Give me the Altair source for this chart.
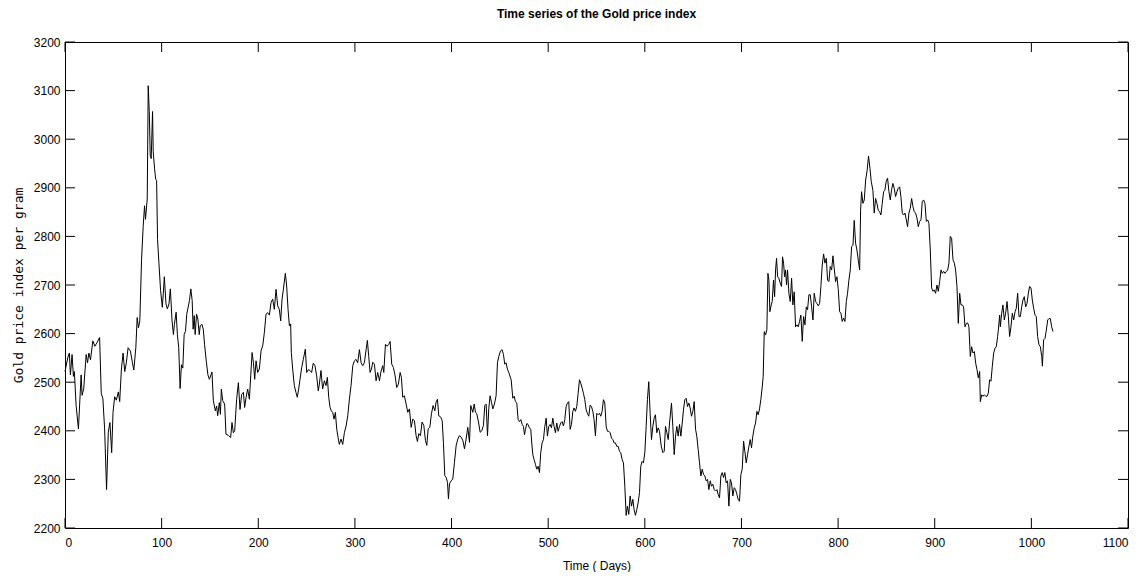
import altair as alt
import pandas as pd

TITLE = "Time series of the Gold price index"
X_TITLE = "Time ( Days)"
Y_TITLE = "Gold price index per gram"
X_TICKS = [0, 100, 200, 300, 400, 500, 600, 700, 800, 900, 1000, 1100]
Y_TICKS = [2200, 2300, 2400, 2500, 2600, 2700, 2800, 2900, 3000, 3100, 3200]

# (day, price) readings, segment by segment
SEG_A = [(0, 2522), (2.8, 2550), (4.5, 2560), (5.6, 2515), (7.3, 2557), (8.7, 2512), (9.7, 2522),
         (11.5, 2452), (13.9, 2404), (16.7, 2515), (17.7, 2473), (19.4, 2487), (21.9, 2557), (23.3, 2540),
         (24.7, 2560), (26.4, 2546), (28.8, 2585), (30.9, 2574), (33, 2581), (35.8, 2592), (37.5, 2477),
         (39.2, 2466), (41, 2404), (43, 2279), (44.8, 2397), (46.5, 2417), (48.3, 2355), (49.7, 2438),
         (51.4, 2470), (53.1, 2463), (55.2, 2480), (56.6, 2460), (58.3, 2525), (60.1, 2560), (61.8, 2522),
         (63.5, 2540), (65.3, 2571), (67.7, 2564), (69.8, 2540), (71.2, 2525), (73.3, 2571), (74.7, 2633),
         (76, 2612), (77.4, 2626), (79.2, 2751), (80.9, 2821), (82.3, 2863), (83.3, 2835), (85.1, 2877),
         (86.1, 3110), (87.2, 3057), (88.2, 2967), (89.2, 2960), (90.6, 3057), (91.3, 2974), (92.7, 2939),
         (93.8, 2918), (94.8, 2915), (95.8, 2793), (97.2, 2745), (98.9, 2689), (100.7, 2654), (101.7, 2682),
         (102.8, 2717), (104.5, 2661), (105.9, 2651), (107.6, 2661), (109, 2692), (110.8, 2626), (112.2, 2598),
         (113.2, 2619), (115, 2644), (116.3, 2598), (117.7, 2571), (119.1, 2487), (120.5, 2536), (121.9, 2529),
         (123.3, 2598), (124.7, 2605), (126, 2640), (127.4, 2654), (128.8, 2668), (130.2, 2692), (131.6, 2668),
         (132.6, 2609), (133.7, 2637), (134.7, 2598), (136.1, 2640), (137.5, 2630), (138.9, 2598), (139.9, 2616),
         (141.7, 2619), (143.1, 2609), (144.4, 2578), (146.2, 2543), (147.9, 2515)]

SEG_B = [(149.4, 2506), (152.1, 2521), (153.5, 2462), (155.6, 2441), (156.9, 2451), (158, 2431), (159.7, 2458),
         (160.8, 2434), (161.8, 2486), (163.2, 2462), (165.2, 2455), (166.6, 2393), (169.4, 2390), (171.4, 2386),
         (172.8, 2417), (174.2, 2396), (175.6, 2400), (177.6, 2465), (179.4, 2499), (181.1, 2444), (182.8, 2475),
         (184.6, 2479), (185.9, 2448), (187.3, 2468), (189, 2486), (190.8, 2465), (192.2, 2513), (193.6, 2561),
         (195, 2540), (196.3, 2506), (197.7, 2544), (199.4, 2520), (201.1, 2527), (202.9, 2565), (204.6, 2575),
         (206.3, 2602), (208, 2640), (209.8, 2643), (211.5, 2638), (213.2, 2664), (214.9, 2671), (216.6, 2650),
         (218.4, 2691), (220.1, 2657), (221.8, 2650), (223.2, 2626), (224.6, 2671), (226, 2691), (228, 2724),
         (229.4, 2698), (230.8, 2650), (232.2, 2616), (233.5, 2620), (234.2, 2561), (235.6, 2527), (237.3, 2493),
         (239, 2479), (240.4, 2469), (241.8, 2486), (243.2, 2506), (244.9, 2530), (246.6, 2547), (247.7, 2558),
         (248.7, 2568), (250.1, 2520), (251.8, 2526), (253.5, 2524), (255.2, 2520), (256.9, 2539), (258.7, 2534),
         (260.4, 2513), (262.1, 2482), (263.2, 2496), (264.9, 2524), (266.6, 2486), (268.4, 2503), (270.1, 2493),
         (271.5, 2510), (272.9, 2469), (274.3, 2448), (275.6, 2441), (277, 2438), (278.4, 2424), (279.8, 2438),
         (281.2, 2403), (282.6, 2386), (283.9, 2372), (285.7, 2383), (287.4, 2372), (289.1, 2396), (290.9, 2410),
         (292.6, 2431), (294.3, 2465), (296, 2493), (297.8, 2534), (299.5, 2544), (301.2, 2547), (302.9, 2540)]

SEG_C = [(304.7, 2567), (306.4, 2540), (308.1, 2534), (309.8, 2540), (311.6, 2567), (312.9, 2586), (314.3, 2553),
         (315.7, 2520), (317.1, 2527), (318.5, 2541), (320.2, 2537), (321.9, 2503), (323.6, 2520), (325.4, 2503),
         (327.1, 2523), (328.8, 2534), (329.9, 2520), (331.6, 2578), (333.3, 2574), (335, 2578), (336.4, 2584),
         (338.1, 2537), (339.9, 2530), (341.6, 2513), (343.3, 2489), (345, 2496), (346.8, 2520), (348.1, 2510),
         (349.5, 2469), (351.2, 2472), (353, 2455), (354.7, 2438), (356.4, 2445), (358.2, 2407), (359.9, 2424),
         (361.6, 2421), (363.3, 2390), (364.7, 2378), (366.1, 2394), (367.8, 2390), (369.5, 2418), (371.3, 2411),
         (373, 2380), (374.4, 2370), (375.8, 2404), (377.5, 2407), (379.2, 2435), (380.9, 2452), (382.7, 2441),
         (384, 2459), (385.4, 2465), (386.8, 2431), (388.9, 2428), (390.3, 2421), (391.6, 2376), (393, 2308),
         (394.4, 2304), (395.8, 2294), (396.8, 2260), (397.9, 2291), (399.6, 2297), (401.3, 2301), (403, 2335),
         (404.8, 2370), (406.5, 2383), (408.2, 2390), (409.9, 2387), (411.7, 2380), (413.4, 2363), (415.1, 2383),
         (416.8, 2407), (418.6, 2376), (419.9, 2452), (422, 2438), (423.4, 2455), (424.8, 2438), (426.1, 2435),
         (427.9, 2418), (429.6, 2397), (431.3, 2400), (433, 2411), (434.4, 2452), (435.8, 2455), (437.2, 2390),
         (438.5, 2445), (439.9, 2472), (441.3, 2459), (442.7, 2445), (444.4, 2455), (446.1, 2472), (447.5, 2540),
         (448.9, 2553), (450.6, 2564), (452.3, 2567), (453.7, 2557), (455.1, 2537), (456.4, 2540), (457.8, 2527),
         (459.2, 2520)]

SEG_D = [(461.7, 2505), (463.4, 2467), (464.8, 2471), (466.1, 2460), (467.5, 2457), (468.9, 2423), (470.3, 2419),
         (471.7, 2423), (473.1, 2413), (474.4, 2409), (475.5, 2392), (476.5, 2403), (477.9, 2415), (479.2, 2413),
         (480.6, 2406), (482, 2403), (483, 2375), (484.1, 2351), (485.4, 2341), (486.8, 2331), (488.2, 2321),
         (489.6, 2327), (491, 2314), (492.3, 2355), (493.7, 2375), (495.1, 2382), (496.5, 2409), (497.9, 2426),
         (499.2, 2389), (500.6, 2409), (502, 2413), (503.4, 2406), (504.8, 2426), (506.1, 2409), (507.5, 2396),
         (508.9, 2416), (510.3, 2399), (511.7, 2409), (513, 2416), (514.4, 2419), (515.8, 2410), (517.2, 2423),
         (518.6, 2450), (519.9, 2457), (521.3, 2460), (522.7, 2403), (524.1, 2413), (525.5, 2440), (526.8, 2447),
         (528.2, 2440), (529.6, 2450), (531, 2477), (532.4, 2505), (533.7, 2498), (535.1, 2488), (536.5, 2477),
         (537.9, 2464), (539.3, 2443), (540.6, 2436), (542, 2430), (543.4, 2453), (544.8, 2450), (546.2, 2440),
         (547.5, 2423), (548.9, 2390), (550.3, 2436), (551.7, 2433), (553.1, 2436), (554.4, 2430), (555.8, 2440),
         (557.2, 2464), (558.6, 2457), (560, 2409), (561.3, 2399), (562.7, 2399), (564.1, 2396), (565.5, 2385),
         (566.9, 2382), (568.2, 2375), (569.6, 2375), (571, 2368), (572.4, 2368), (573.8, 2358), (575.1, 2355),
         (576.5, 2341), (577.9, 2334), (579.3, 2286), (580.7, 2226), (582, 2245), (583.4, 2228), (584.8, 2266),
         (586.2, 2245), (587.6, 2259), (588.9, 2238), (590.3, 2226), (591.7, 2238), (593.1, 2252), (594.5, 2273),
         (595.8, 2327), (597.2, 2337), (598.6, 2334), (600, 2355), (601.4, 2409), (602.7, 2464), (604.1, 2501),
         (605.5, 2436), (606.9, 2382), (608.3, 2409), (609.6, 2426), (611, 2433), (612.4, 2396), (613.8, 2406)]

SEG_E = [(615.2, 2399), (617, 2368), (618.7, 2355), (620.1, 2358), (621.4, 2409), (622.8, 2396), (624.2, 2382),
         (625.6, 2416), (627.6, 2457), (629, 2409), (630.4, 2351), (631.8, 2389), (633.1, 2409), (634.5, 2389),
         (635.9, 2413), (637.3, 2389), (638.7, 2416), (640, 2443), (641.4, 2464), (642.8, 2467), (644.2, 2450),
         (645.6, 2457), (646.9, 2447), (648.3, 2430), (649.7, 2440), (651.1, 2460), (652.5, 2403), (653.8, 2389),
         (655.2, 2362), (656.6, 2334), (658, 2307), (659.4, 2321), (660.8, 2310), (662.1, 2307), (663.5, 2297),
         (664.9, 2300), (666.3, 2279), (667.7, 2297), (669, 2286), (670.4, 2290), (671.8, 2279), (673.2, 2276),
         (674.6, 2279), (675.9, 2269), (677.3, 2262), (678.7, 2307), (680.1, 2314), (681.5, 2304), (682.8, 2314),
         (684.2, 2293), (685.6, 2297), (687, 2245), (688.4, 2300), (689.7, 2293), (691.1, 2266), (692.5, 2283),
         (693.9, 2279), (695.3, 2269), (696.6, 2259), (698, 2255), (699.4, 2310), (700.8, 2321), (702.2, 2379),
         (703.5, 2358), (704.9, 2334), (706.3, 2351), (707.7, 2368), (709.1, 2382), (710.4, 2365), (711.8, 2389),
         (713.2, 2406), (714.6, 2416), (716, 2440), (717.3, 2433)]

SEG_F = [(718.7, 2445), (720.1, 2465), (721.5, 2490), (722.5, 2512), (723.6, 2604), (724.9, 2597), (726.3, 2608),
         (727.4, 2724), (728.4, 2710), (729.4, 2645), (730.8, 2659), (731.8, 2666), (733.2, 2710), (734.3, 2676),
         (735.3, 2731), (736.3, 2755), (737.4, 2717), (738.7, 2714), (740.1, 2704), (741.5, 2697), (742.5, 2758),
         (743.6, 2745), (744.6, 2717), (745.6, 2731), (746.7, 2700), (747.7, 2731), (749.1, 2683), (750.5, 2666),
         (751.9, 2714), (753.2, 2659), (754.6, 2686), (756, 2614), (757.4, 2618), (758.8, 2614), (760.1, 2625),
         (761.5, 2638), (762.9, 2584), (764.3, 2635), (765.7, 2618), (767.1, 2655), (768.4, 2649), (769.8, 2680),
         (771.2, 2680), (772.6, 2655), (774, 2628), (775.3, 2683), (776.7, 2666), (778.1, 2662), (779.5, 2657),
         (780.9, 2662), (782.2, 2697), (783.6, 2741), (785, 2764), (786.4, 2745), (787.8, 2755), (789.1, 2710),
         (790.5, 2707), (791.9, 2738), (793.3, 2731), (794.7, 2760), (796, 2734), (797.4, 2707), (798.8, 2717),
         (800.2, 2690), (801.6, 2645), (802.9, 2642), (804.3, 2625), (805.7, 2632), (807.1, 2625), (808.5, 2666),
         (809.8, 2683), (811.2, 2710), (812.6, 2731), (814, 2779), (815.4, 2782), (816.7, 2833), (818.1, 2786),
         (819.5, 2772), (820.9, 2751), (822.3, 2731), (823.3, 2854), (824.3, 2892), (825.7, 2868), (827.1, 2875),
         (828.5, 2916), (830, 2935), (831.5, 2965), (833, 2940), (834.3, 2913), (836, 2895), (837.4, 2848),
         (838.8, 2878), (840.2, 2868), (841.5, 2854), (842.9, 2851), (844.3, 2844), (845.7, 2868), (847.1, 2892),
         (848.4, 2895), (849.8, 2913), (851.2, 2920), (852.6, 2892), (854, 2875), (855.3, 2895), (856.7, 2909),
         (858.1, 2899), (859.5, 2882), (860.9, 2892), (862.2, 2899)]

SEG_G = [(863.7, 2902), (865, 2882), (866.4, 2848), (867.8, 2844), (869.2, 2848), (870.6, 2834), (871.9, 2820),
         (873.3, 2848), (874.7, 2858), (876.1, 2878), (877.5, 2861), (878.8, 2851), (880.2, 2848), (881.6, 2838),
         (883, 2820), (884.4, 2831), (885.8, 2834), (887.1, 2872), (888.5, 2875), (889.9, 2868), (891.3, 2831),
         (892.7, 2834), (894, 2827), (895.4, 2772), (896.8, 2694), (898.2, 2687), (899.6, 2690), (900.9, 2683),
         (902.3, 2700), (903.7, 2687), (905.1, 2707), (906.5, 2731), (907.8, 2724), (909.2, 2728), (910.6, 2724),
         (912, 2728), (913.4, 2731), (914.7, 2745), (916.1, 2800), (917.5, 2796), (918.9, 2752), (920.3, 2745),
         (921.6, 2731), (923, 2697), (924.4, 2621), (925.8, 2683), (927.2, 2659), (928.5, 2659), (929.9, 2655),
         (931.3, 2614), (932.7, 2621), (934.1, 2622), (935.4, 2614), (936.8, 2553), (938.2, 2573), (939.6, 2560),
         (941, 2563), (942.4, 2539), (943.7, 2526), (945.1, 2509), (946.5, 2522), (947.2, 2460), (948.6, 2474),
         (949.9, 2471), (951.3, 2474), (952.7, 2471), (954.1, 2471), (955.5, 2478), (956.8, 2505), (958.2, 2502),
         (959.6, 2533), (961, 2560), (962.4, 2570), (963.7, 2573), (965.1, 2594), (965.8, 2607), (967.2, 2638),
         (967.9, 2614), (969.3, 2642), (970.6, 2659), (972, 2628), (973.4, 2642), (974.8, 2666), (976.2, 2635),
         (977.5, 2594), (978.9, 2614), (980.3, 2642), (981.7, 2628), (983.1, 2645), (984.4, 2652), (985.8, 2683),
         (987.2, 2635), (988.6, 2635), (990, 2655), (991.3, 2669), (992.7, 2676), (994.1, 2655), (995.5, 2662),
         (996.9, 2683), (998.2, 2697), (999.6, 2694), (1001, 2669), (1002.4, 2652), (1003.8, 2638), (1005.1, 2635),
         (1006.5, 2594), (1007.9, 2577), (1009.3, 2573), (1010.7, 2553), (1011.4, 2533), (1012.7, 2587),
         (1014.1, 2590), (1015.5, 2607), (1016.9, 2628), (1018.3, 2631), (1019.6, 2631), (1021, 2614), (1022.4, 2604)]

rows = SEG_A + SEG_B + SEG_C + SEG_D + SEG_E + SEG_F + SEG_G
df = pd.DataFrame(rows, columns=["day", "price"])

W, H = 1063, 486
TICK = 10
FONT = "Liberation Sans"

xs = alt.Scale(domain=[0, 1100], nice=False, zero=False)
ys = alt.Scale(domain=[2200, 3200], nice=False, zero=False)

x_axis = alt.Axis(values=X_TICKS, title=X_TITLE, format="d", ticks=False, tickSize=0, domain=False,
                  grid=False, labelPadding=9, titlePadding=12, labelFont=FONT, titleFont=FONT,
                  labelFontSize=12, titleFontSize=12, titleFontWeight="normal",
                  labelColor="black", titleColor="black")
y_axis = alt.Axis(values=Y_TICKS, title=Y_TITLE, format="d", ticks=False, tickSize=0, domain=False,
                  grid=False, labelPadding=5, titlePadding=8, labelFont=FONT, titleFont="DejaVu Sans Mono",
                  labelFontSize=12, titleFontSize=13, titleFontWeight="normal",
                  labelColor="black", titleColor="black")

line = alt.Chart(df).mark_line(color="black", strokeWidth=1).encode(
    x=alt.X("day:Q", scale=xs, axis=x_axis),
    y=alt.Y("price:Q", scale=ys, axis=y_axis),
)

xt = pd.DataFrame({"t": X_TICKS})
yt = pd.DataFrame({"t": Y_TICKS})

x_bottom = alt.Chart(xt).mark_rule(color="black", strokeWidth=1).encode(
    x=alt.X("t:Q", scale=xs, axis=x_axis), y=alt.value(H), y2=alt.value(H - TICK))
x_top = alt.Chart(xt).mark_rule(color="black", strokeWidth=1).encode(
    x=alt.X("t:Q", scale=xs, axis=x_axis), y=alt.value(0), y2=alt.value(TICK))
y_left = alt.Chart(yt).mark_rule(color="black", strokeWidth=1).encode(
    y=alt.Y("t:Q", scale=ys, axis=y_axis), x=alt.value(0), x2=alt.value(TICK))
y_right = alt.Chart(yt).mark_rule(color="black", strokeWidth=1).encode(
    y=alt.Y("t:Q", scale=ys, axis=y_axis), x=alt.value(W), x2=alt.value(W - TICK))

chart = alt.layer(line, x_bottom, x_top, y_left, y_right).properties(
    width=W, height=H,
    title=alt.TitleParams(TITLE, font=FONT, fontSize=12, fontWeight="bold", anchor="middle",
                          color="black", offset=15),
    padding={"left": 57, "top": 34, "right": 10, "bottom": 44},
    autosize=alt.AutoSizeParams(type="none"),
    background="white",
).configure_view(stroke="black", strokeWidth=1)

chart.save("out.html", embed_options={"renderer": "svg", "actions": False})
